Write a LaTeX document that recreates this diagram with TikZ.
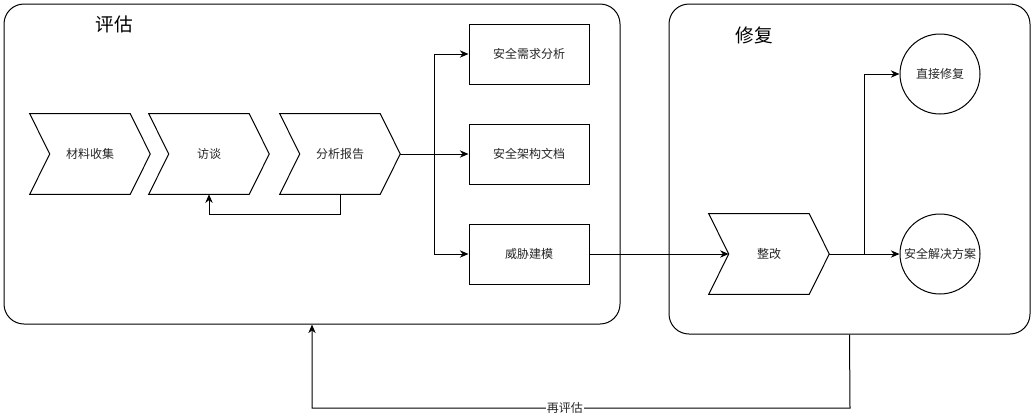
\documentclass[tikz,border=0pt]{standalone}
\usepackage{fontspec}
\newfontfamily\cjk{Noto Sans CJK SC}
\usetikzlibrary{arrows.meta,calc}
\tikzset{
  px/.style={x=0.75pt,y=-0.75pt},
  lbl/.style={font=\cjk\fontsize{9}{11}\selectfont, text=black!85},
  ttl/.style={font=\cjk\fontsize{14}{16}\selectfont, text=black},
  chev/.style={lbl, minimum width=90pt, minimum height=60pt, inner sep=0pt},
  sbox/.style={lbl, draw, line width=0.75pt, minimum width=90pt, minimum height=45pt, inner sep=0pt},
  circ/.style={lbl, draw, circle, line width=0.75pt, minimum size=60pt, inner sep=0pt},
  cont/.style={draw, line width=0.75pt, rounded corners=15pt, inner sep=0pt},
  ln/.style={line width=0.75pt},
  arr/.style={ln, -{Stealth[length=6.5pt,width=5.5pt]}}
}
\newcommand{\chevdraw}[1]{%
  \draw[ln] (#1.north west) -- ([xshift=-15pt]#1.north east) -- (#1.east)
    -- ([xshift=-15pt]#1.south east) -- (#1.south west) -- ([xshift=15pt]#1.west) -- cycle;}
\begin{document}
\begin{tikzpicture}[px]
\useasboundingbox (0,0) rectangle (1035,418);
% containers
\node[cont, minimum width=462pt, minimum height=240pt] (left) at (312,164) {};
\node[cont, minimum width=270.75pt, minimum height=247.5pt] (right) at (849.5,169) {};
\node[ttl] (t1) at (114,24) {评估};
\node[ttl] (t2) at (754,35) {修复};
% chevrons
\node[chev] (c1) at (90,154) {材料收集};
\node[chev] (c2) at (209,154) {访谈};
\node[chev] (c3) at (340,154) {分析报告};
\node[chev] (c4) at (769,254) {整改};
\chevdraw{c1}\chevdraw{c2}\chevdraw{c3}\chevdraw{c4}
% boxes
\node[sbox] (b1) at (529,54) {安全需求分析};
\node[sbox] (b2) at (529,154) {安全架构文档};
\node[sbox] (b3) at (529,254) {威胁建模};
% circles
\node[circ] (k1) at (940,74) {直接修复};
\node[circ] (k2) at (940,254) {安全解决方案};
% connectors
\coordinate (br) at (434,154);
\draw[ln] (c3.east) -- (br);
\draw[arr] (br) |- (b1.west);
\draw[arr] (br) -- (b2.west);
\draw[arr] (br) |- (b3.west);
\draw[arr] (c3.south) -- ++(0,20) -| (c2.south);
\draw[arr] (b3.east) -- ([xshift=15pt]c4.west);
\coordinate (br2) at (864,254);
\draw[ln] (c4.east) -- (br2);
\draw[arr] (br2) |- (k1.west);
\draw[arr] (br2) -- (k2.west);
\draw[arr] (right.south) -- (850,408) -| (left.south)
  node[pos=0.265, lbl, fill=white, inner sep=1pt] (re) {再评估};
\end{tikzpicture}
\end{document}
